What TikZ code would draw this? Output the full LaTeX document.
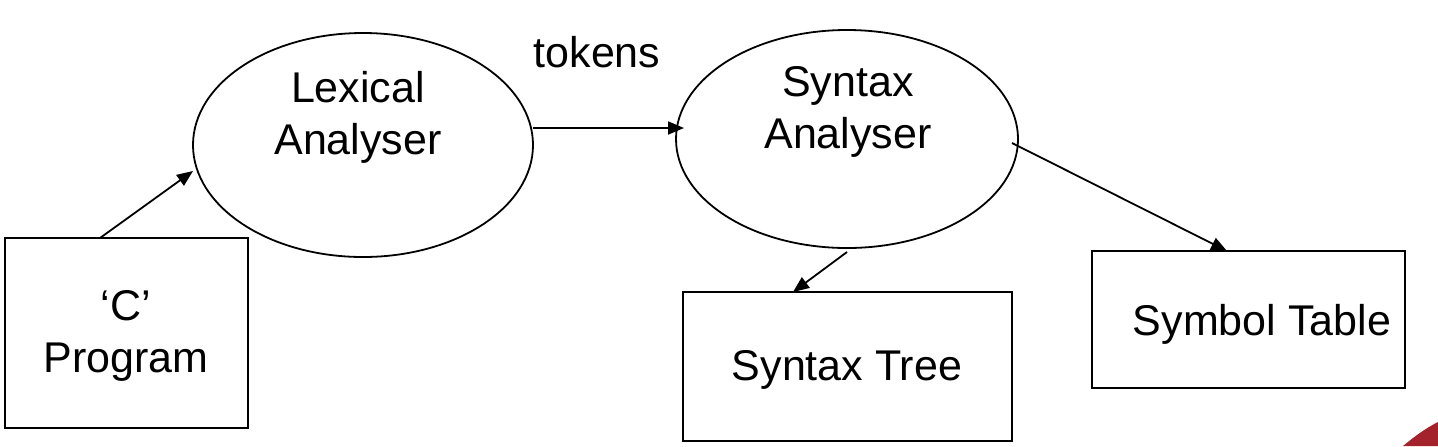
\documentclass[tikz,border=0pt]{standalone}
\usepackage{fontspec}
\setmainfont{Liberation Sans}
\usetikzlibrary{shapes.geometric,arrows.meta}
\definecolor{cornerred}{HTML}{A3222B}
\tikzset{
  oval/.style={draw, line width=0.9pt, ellipse, inner sep=0pt},
  boxnode/.style={draw, line width=0.9pt, rectangle, inner sep=0pt, align=center, font=\fontsize{21.5}{26}\selectfont},
  lbl/.style={align=center, font=\fontsize{21.5}{26}\selectfont, inner sep=0pt},
  conn/.style={line width=0.9pt, -{Triangle[length=8pt,width=6.5pt]}}
}
\begin{document}
\begin{tikzpicture}[x=0.5pt,y=-0.5pt]
\useasboundingbox (0,0) rectangle (1438,446);
% ellipses
\node[oval, minimum width=170pt, minimum height=112pt] (lex) at (363,145) {};
\node[oval, minimum width=171pt, minimum height=109pt] (syn) at (847,139) {};
\node[lbl] (lext) at (358,117) {Lexical\\Analyser};
\node[lbl] (synt) at (848,112) {Syntax\\Analyser};
\node[lbl] (tok) at (597,52) {tokens};
% boxes
\node[boxnode, minimum width=121.5pt, minimum height=95pt] (prog) at (126.5,333) {};
\node[lbl] (progt) at (126,336) {`C'\\Program};
\node[boxnode, minimum width=164.5pt, minimum height=74.5pt] (tree) at (847.5,366.5) {};
\node[lbl] (treet) at (847,370) {Syntax Tree};
\node[boxnode, minimum width=156.5pt, minimum height=68.5pt] (symb) at (1248.5,319.5) {};
\node[lbl] (symbt) at (1262,324) {Symbol Table};
% connector end points
\coordinate (p1) at (100,238);
\coordinate (p2) at (193,171);
\coordinate (t1) at (533,128);
\coordinate (t2) at (684,128);
\coordinate (s1) at (847,252);
\coordinate (s2) at (793,292);
\coordinate (u1) at (1012,143);
\coordinate (u2) at (1227,251);
\draw[conn] (p1) -- (p2);
\draw[conn] (t1) -- (t2);
\draw[conn] (s1) -- (s2);
\draw[conn] (u1) -- (u2);
% slide corner decoration
\fill[cornerred] (1403,446) .. controls (1415,436) and (1426,428) .. (1438,422) -- (1438,446) -- cycle;
\end{tikzpicture}
\end{document}
